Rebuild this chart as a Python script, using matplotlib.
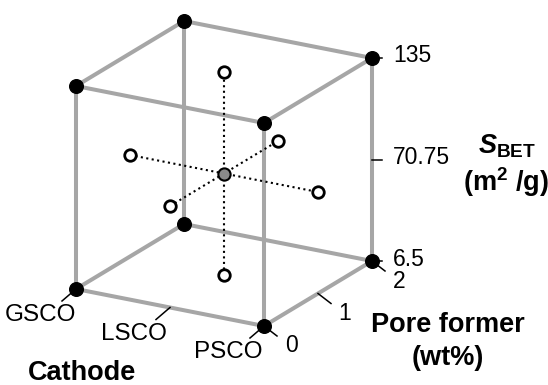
import itertools
import numpy as np
import matplotlib
matplotlib.use("Agg")
import matplotlib.pyplot as plt

plt.rcParams["font.family"] = ["Liberation Sans", "DejaVu Sans"]
plt.rcParams["mathtext.fontset"] = "custom"
plt.rcParams["mathtext.rm"] = "Liberation Sans"
plt.rcParams["mathtext.it"] = "Liberation Sans:bold:italic"
plt.rcParams["mathtext.bf"] = "Liberation Sans:bold"

# ============================================================
#   DATOS DEL DISEÑO (cubo: cátodo x formador de poros x S_BET)
# ============================================================
cathodes = ["GSCO", "LSCO", "PSCO"]
pore_former = [0, 1, 2]              # wt%
sbet_ticks = [6.5, 70.75, 135]       # m2/g

corner_cathode = [0, 2, 0, 2, 0, 2, 0, 2]
corner_pore = [0, 0, 2, 2, 0, 0, 2, 2]
corner_sbet = [6.5, 6.5, 6.5, 6.5, 135, 135, 135, 135]

# puntos axiales (en pares opuestos)
axial_cathode = [0, 2, 1, 1, 1, 1]
axial_pore = [1, 1, 0, 2, 1, 1]
axial_sbet = [70.75, 70.75, 70.75, 70.75, 6.5, 135]

center_cathode = [1]
center_pore = [1]
center_sbet = [70.75]

# ============================================================
#   PROYECCIÓN OBLICUA (estilo)
# ============================================================
ORIGIN = np.array([76.0, 289.0])
E_CAT = np.array([94.0, 18.5])
E_PORE = np.array([54.0, -32.5])
E_SBET = np.array([0.0, -203.0 / (135 - 6.5)])
EDGE = "#a6a6a6"
FS_TICK = 16.5
FS_NAME = 17.5
FS_TITLE = 19.5


def proj(c, p, s):
    c = np.asarray(c, float)
    p = np.asarray(p, float)
    s = np.asarray(s, float) - 6.5
    x = ORIGIN[0] + c * E_CAT[0] + p * E_PORE[0] + s * E_SBET[0]
    y = ORIGIN[1] + c * E_CAT[1] + p * E_PORE[1] + s * E_SBET[1]
    return x, y


fig = plt.figure(figsize=(5.48, 3.85), dpi=100)
ax = fig.add_axes([0, 0, 1, 1])
ax.set_xlim(0, 548)
ax.set_ylim(385, 0)
ax.axis("off")

# aristas del cubo
corners = list(zip(corner_cathode, corner_pore, corner_sbet))
for a, b in itertools.combinations(corners, 2):
    if sum(u != v for u, v in zip(a, b)) == 1:
        x, y = proj(*zip(a, b))
        ax.plot(x, y, color=EDGE, lw=2.9, solid_capstyle="round", zorder=1)

# líneas punteadas entre puntos axiales
for i in range(0, 6, 2):
    x, y = proj(axial_cathode[i:i + 2], axial_pore[i:i + 2], axial_sbet[i:i + 2])
    ax.plot(x, y, color="black", lw=1.5, ls=":", zorder=2)

# puntos
x, y = proj(corner_cathode, corner_pore, corner_sbet)
ax.plot(x, y, "o", color="black", ms=9.8, zorder=4)
x, y = proj(axial_cathode, axial_pore, axial_sbet)
ax.plot(x, y, "o", mfc="white", mec="black", mew=2.0, ms=8.3, zorder=4)
x, y = proj(center_cathode, center_pore, center_sbet)
ax.plot(x, y, "o", mfc="#8a8a8a", mec="black", mew=1.5, ms=8.8, zorder=4)

# eje S_BET
for s in sbet_ticks:
    x, y = proj(2, 2, s)
    ax.plot([x, x + 10], [y, y], color="black", lw=1.1, zorder=3)
    ax.text(x + 21, y - 2, f"{s:g}", fontsize=FS_TICK, ha="left", va="center")
x, y = proj(2, 2, 70.75)
ax.text(x + 135, y + 1, r"$\mathit{S}_{\mathbf{BET}}$", fontsize=FS_TITLE,
        ha="center", va="bottom")
ax.text(x + 134, y + 23, r"(m$^{\mathbf{2}}$ /g)", fontsize=FS_TITLE,
        fontweight="bold", ha="center", va="center")

# eje formador de poros
for p in pore_former:
    x, y = proj(2, p, 6.5)
    ax.plot([x, x + 13], [y, y + 10], color="black", lw=1.1, zorder=3)
    ax.text(x + 27, y + 20, f"{p}", fontsize=FS_TICK, ha="center", va="center")
ax.text(448, 325, "Pore former", fontsize=FS_TITLE, fontweight="bold",
        ha="center", va="center")
ax.text(448, 358, "(wt%)", fontsize=FS_TITLE, fontweight="bold",
        ha="center", va="center")

# eje cátodo
for i, name in enumerate(cathodes):
    x, y = proj(i, 0, 6.5)
    ax.plot([x, x - 14], [y, y + 12], color="black", lw=1.1, zorder=3)
    ax.text(x - 36, y + 26, name, fontsize=FS_NAME, ha="center", va="center")
ax.text(82, 373, "Cathode", fontsize=FS_TITLE, fontweight="bold",
        ha="center", va="center")

fig.savefig("out.png", dpi=100)
